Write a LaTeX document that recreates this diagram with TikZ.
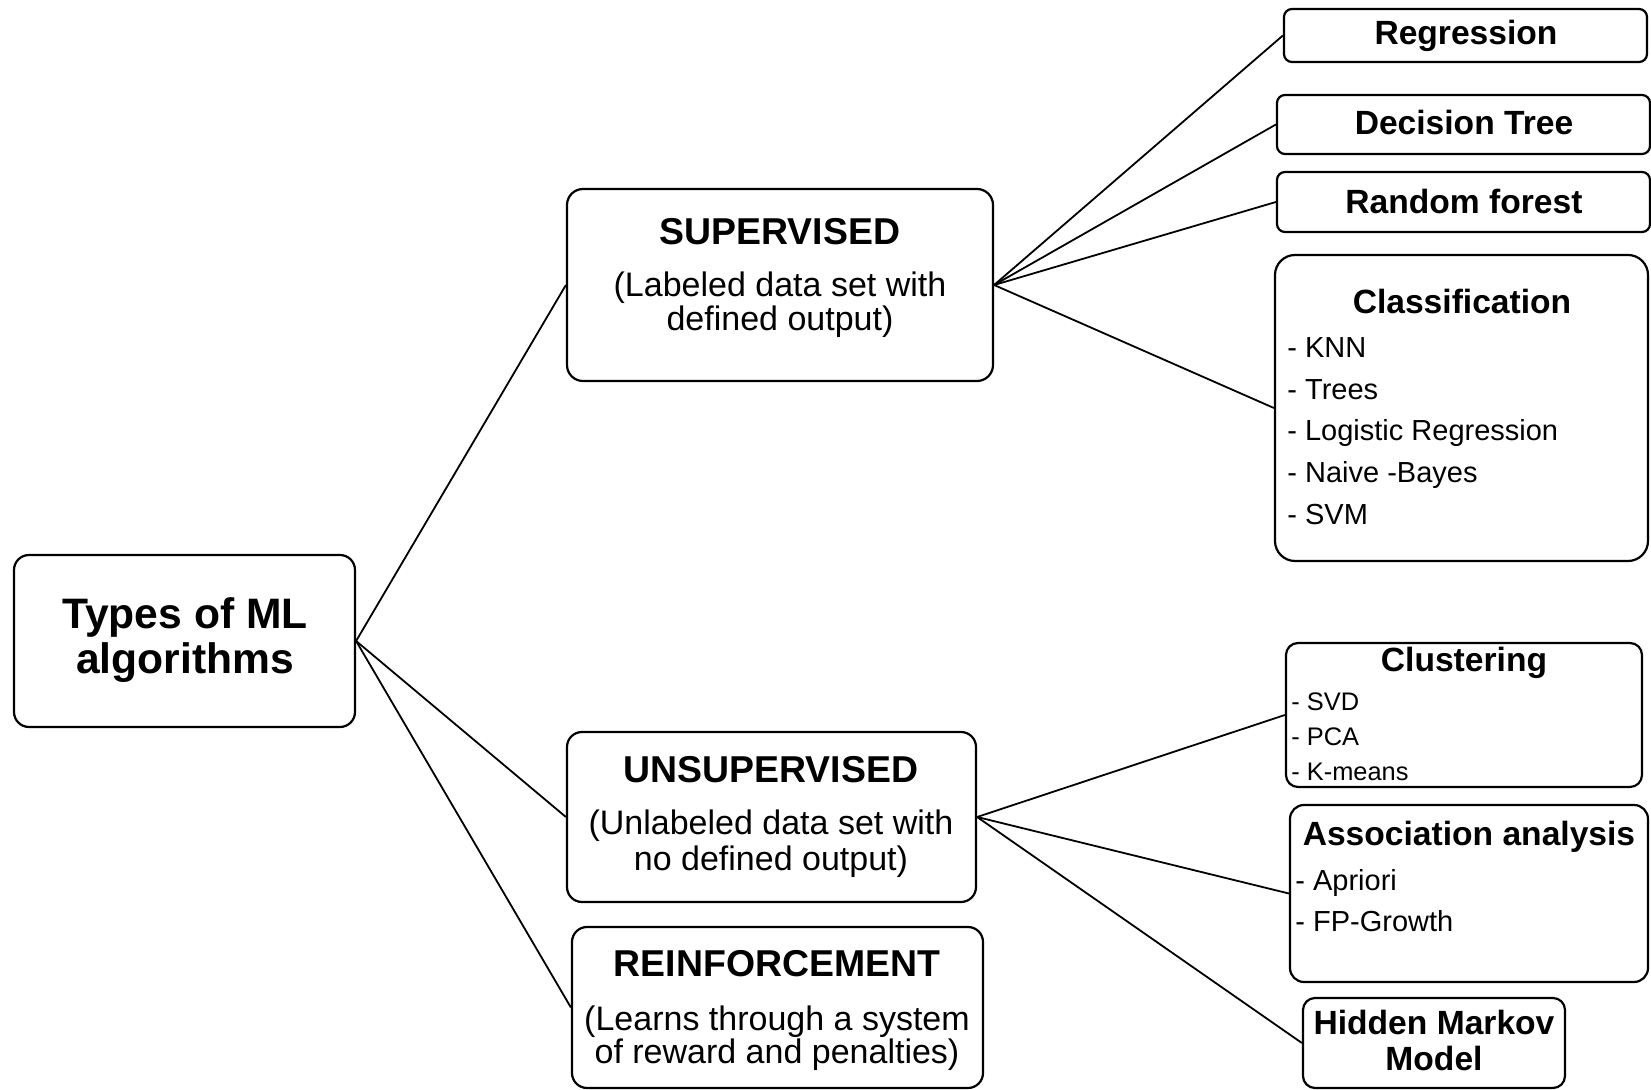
\documentclass[tikz,border=0pt]{standalone}
\usepackage{fontspec}
\setmainfont{Liberation Sans}
\usetikzlibrary{fit}

\begin{document}
\begin{tikzpicture}[x=0.5pt,y=0.5pt,yscale=-1,xscale=1,
    box/.style={draw, line width=1.1pt, inner sep=0pt, rounded corners=4pt},
    conn/.style={line width=0.9pt},
    txt/.style={inner sep=0pt, anchor=base},
    item/.style={inner sep=0pt, anchor=base west},
    rootfont/.style={font=\fontsize{21.3}{24}\selectfont\bfseries},
    mainfont/.style={font=\fontsize{18.7}{22}\selectfont\bfseries},
    subfont/.style={font=\fontsize{17}{20}\selectfont},
    leaffont/.style={font=\fontsize{16.8}{20}\selectfont\bfseries},
    itemfont/.style={font=\fontsize{14.5}{17}\selectfont},
    smallfont/.style={font=\fontsize{12.7}{15}\selectfont}]
    \useasboundingbox (0,0) rectangle (1651,1090);

    %Rounded Rect [root]
    \node[box, rounded corners=7.5pt, fit={(14,555) (355,727)}] (root) {};
    %Rounded Rect [supervised]
    \node[box, rounded corners=8pt, fit={(567,189) (993,381)}] (sup) {};
    %Rounded Rect [unsupervised]
    \node[box, rounded corners=7.5pt, fit={(567,732) (976,902)}] (uns) {};
    %Rounded Rect [reinforcement]
    \node[box, rounded corners=7.5pt, fit={(572,927) (983,1088)}] (rei) {};
    %Rounded Rect [leaves]
    \node[box, fit={(1284,9) (1647,62)}] (reg) {};
    \node[box, fit={(1277,95) (1650,154)}] (dt) {};
    \node[box, fit={(1277,172) (1650,232)}] (rf) {};
    \node[box, rounded corners=10pt, fit={(1275,255) (1648,561)}] (cls) {};
    \node[box, rounded corners=6pt, fit={(1286,643) (1642,787)}] (clu) {};
    \node[box, rounded corners=7pt, fit={(1290,805) (1648,982)}] (aso) {};
    \node[box, rounded corners=6pt, fit={(1303,998) (1565,1088)}] (hmm) {};

    %Straight Lines
    \draw[conn] (root.east) -- (sup.west);
    \draw[conn] (root.east) -- (uns.west);
    \draw[conn] (root.east) -- (rei.west);
    %Straight Lines
    \draw[conn] (sup.east) -- (reg.west);
    \draw[conn] (sup.east) -- (dt.west);
    \draw[conn] (sup.east) -- (rf.west);
    \draw[conn] (sup.east) -- (cls.west);
    %Straight Lines
    \draw[conn] (uns.east) -- (clu.west);
    \draw[conn] (uns.east) -- (aso.west);
    \draw[conn] (uns.east) -- (hmm.west);

    % Text Node
    \node[txt, rootfont] (rootA) at (185,629) {Types of ML};
    \node[txt, rootfont] (rootB) at (185,674) {algorithms};
    % Text Node
    \node[txt, mainfont] (supT) at (780,245) {SUPERVISED};
    \node[txt, subfont] (supA) at (780,297) {(Labeled data set with};
    \node[txt, subfont] (supB) at (780,331) {defined output)};
    % Text Node
    \node[txt, mainfont] (unsT) at (771,783) {UNSUPERVISED};
    \node[txt, subfont] (unsA) at (771,835) {(Unlabeled data set with};
    \node[txt, subfont] (unsB) at (771,871) {no defined output)};
    % Text Node
    \node[txt, mainfont] (reiT) at (777,977) {REINFORCEMENT};
    \node[txt, subfont] (reiA) at (777,1030) {(Learns through a system};
    \node[txt, subfont] (reiB) at (777,1063) {of reward and penalties)};
    % Text Node
    \node[txt, leaffont] (regT) at (1466,45) {Regression};
    \node[txt, leaffont] (dtT) at (1464,135) {Decision Tree};
    \node[txt, leaffont] (rfT) at (1464,214) {Random forest};
    % Text Node
    \node[txt, leaffont] (clsT) at (1462,314) {Classification};
    \node[item, itemfont] (clsA) at (1287,358) {- KNN};
    \node[item, itemfont] (clsB) at (1287,400) {- Trees};
    \node[item, itemfont] (clsC) at (1287,441) {- Logistic Regression};
    \node[item, itemfont] (clsD) at (1287,483) {- Naive -Bayes};
    \node[item, itemfont] (clsE) at (1287,525) {- SVM};
    % Text Node
    \node[txt, leaffont] (cluT) at (1464,672) {Clustering};
    \node[item, smallfont] (cluA) at (1291,711) {- SVD};
    \node[item, smallfont] (cluB) at (1291,746) {- PCA};
    \node[item, smallfont] (cluC) at (1291,781) {- K-means};
    % Text Node
    \node[txt, leaffont] (asoT) at (1469,846) {Association analysis};
    \node[item, itemfont] (asoA) at (1295,891) {- Apriori};
    \node[item, itemfont] (asoB) at (1295,932) {- FP-Growth};
    % Text Node
    \node[txt, leaffont] (hmmA) at (1434,1035) {Hidden Markov};
    \node[txt, leaffont] (hmmB) at (1434,1070) {Model};

\end{tikzpicture}
\end{document}
